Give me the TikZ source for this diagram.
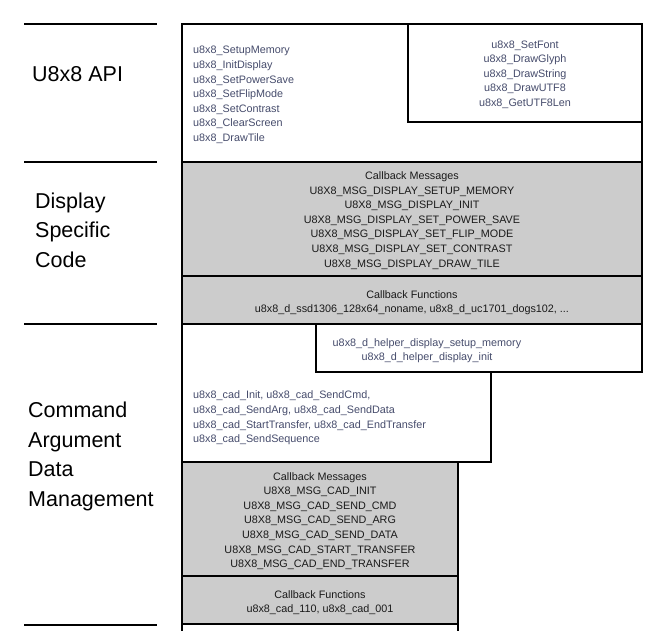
\documentclass[tikz,border=0pt]{standalone}
\usepackage{fontspec}
\setmainfont{Liberation Sans}
\definecolor{apitext}{HTML}{464C6C}
\definecolor{msgtext}{HTML}{1A1A1A}
\definecolor{panel}{HTML}{CCCCCC}
\begin{document}
\begin{tikzpicture}[x=1pt,y=-1pt,
  frame/.style={draw=black,line width=1.8pt},
  greybox/.style={frame,fill=panel},
  sep/.style={draw=black,line width=1.4pt},
  layer/.style={font=\fontsize{21.5}{29.5}\selectfont,align=left,anchor=west,inner sep=0pt,text=black},
  apilist/.style={font=\fontsize{10.8}{14.6}\selectfont,text=apitext,inner sep=0pt},
  msglist/.style={font=\fontsize{10.8}{14.6}\selectfont,text=msgtext,inner sep=0pt,align=center}]
\useasboundingbox (0,0) rectangle (650,630);

% layer separators on the left
\draw[sep] (24,24) -- (157,24);
\draw[sep] (24,162) -- (157,162);
\draw[sep] (24,324) -- (157,324);
\draw[sep] (24,625) -- (157,625);

% layer names
\node[layer] (lapi) at (32,74) {U8x8 API};
\node[layer] (ldisp) at (35,230) {Display\\Specific\\Code};
\node[layer] (lcad) at (28,456.5) {Command\\Argument\\Data\\Management};

% U8x8 API layer
\draw[frame,fill=white] (182,24) rectangle (642,162);
\draw[frame,fill=white] (408,24) rectangle (642,122);
\node[apilist,align=left,anchor=west] (apiA) at (193,95)
  {u8x8\_SetupMemory\\u8x8\_InitDisplay\\u8x8\_SetPowerSave\\u8x8\_SetFlipMode\\u8x8\_SetContrast\\u8x8\_ClearScreen\\u8x8\_DrawTile};
\node[apilist,align=center] (apiB) at (525,74.5)
  {u8x8\_SetFont\\u8x8\_DrawGlyph\\u8x8\_DrawString\\u8x8\_DrawUTF8\\u8x8\_GetUTF8Len};

% display specific layer
\draw[greybox] (182,162) rectangle (642,276);
\draw[greybox] (182,276) rectangle (642,324);
\node[msglist] (dmsg) at (412,220.5)
  {Callback Messages\\U8X8\_MSG\_DISPLAY\_SETUP\_MEMORY\\U8X8\_MSG\_DISPLAY\_INIT\\U8X8\_MSG\_DISPLAY\_SET\_POWER\_SAVE\\U8X8\_MSG\_DISPLAY\_SET\_FLIP\_MODE\\U8X8\_MSG\_DISPLAY\_SET\_CONTRAST\\U8X8\_MSG\_DISPLAY\_DRAW\_TILE};
\node[msglist] (dfun) at (412,302.5)
  {Callback Functions\\u8x8\_d\_ssd1306\_128x64\_noname, u8x8\_d\_uc1701\_dogs102, ...};

% command / argument / data layer
\draw[frame,fill=white] (182,324) -- (642,324) -- (642,372) -- (491,372) -- (491,462) -- (182,462) -- cycle;
\draw[frame,fill=white] (316,324) rectangle (642,372);
\node[apilist,align=center] (helper) at (427,350.5)
  {u8x8\_d\_helper\_display\_setup\_memory\\u8x8\_d\_helper\_display\_init};
\node[apilist,align=left,anchor=west] (cadA) at (193,418)
  {u8x8\_cad\_Init, u8x8\_cad\_SendCmd,\\u8x8\_cad\_SendArg, u8x8\_cad\_SendData\\u8x8\_cad\_StartTransfer, u8x8\_cad\_EndTransfer\\u8x8\_cad\_SendSequence};
\draw[greybox] (182,462) rectangle (458,576);
\draw[greybox] (182,576) rectangle (458,624);
\node[msglist] (cmsg) at (320,521)
  {Callback Messages\\U8X8\_MSG\_CAD\_INIT\\U8X8\_MSG\_CAD\_SEND\_CMD\\U8X8\_MSG\_CAD\_SEND\_ARG\\U8X8\_MSG\_CAD\_SEND\_DATA\\U8X8\_MSG\_CAD\_START\_TRANSFER\\U8X8\_MSG\_CAD\_END\_TRANSFER};
\node[msglist] (cfun) at (320,602.5)
  {Callback Functions\\u8x8\_cad\_110, u8x8\_cad\_001};

% next layer, cut at the lower edge
\draw[frame] (182,634) -- (182,624) -- (458,624) -- (458,634);
\end{tikzpicture}
\end{document}
